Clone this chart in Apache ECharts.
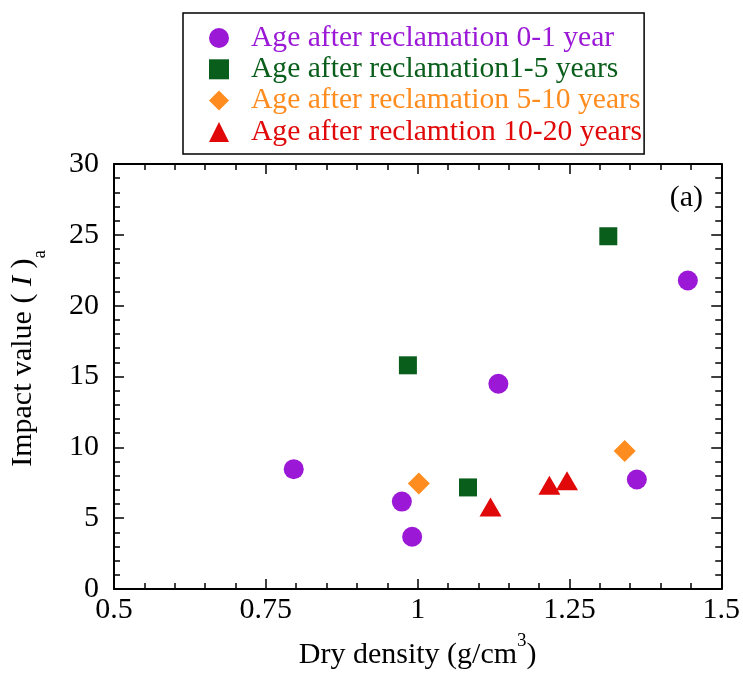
<!DOCTYPE html>
<html>
<head>
<meta charset="utf-8">
<script src="https://cdn.jsdelivr.net/npm/echarts@6/dist/echarts.min.js"></script>
<style>
  html, body { margin: 0; padding: 0; background: #fff; }
  #chart { width: 743px; height: 675px; }
</style>
</head>
<body>
<div id="chart"></div>
<script>
// Impact value vs dry density, grouped by age after reclamation
const seriesNames = [
  'Age after reclamation 0-1 year',
  'Age after reclamation1-5 years',
  'Age after reclamation 5-10 years',
  'Age after reclamtion 10-20 years'
];
const seriesColors = ['#9b19d6', '#0a5e1b', '#ff8c1e', '#e00808'];
const seriesSymbols = ['circle', 'rect', 'diamond', 'triangle'];
const seriesSizes = [20, 18, [22, 22], [22, 19]];

// [dry density (g/cm3), impact value Ia]
const age0to1 = [[0.796, 8.46], [0.974, 6.17], [0.991, 3.69], [1.133, 14.49], [1.361, 7.73], [1.445, 21.78]];
const age1to5 = [[0.984, 15.79], [1.083, 7.17], [1.314, 24.9]];
const age5to10 = [[1.002, 7.45], [1.341, 9.74]];
const age10to20 = [[1.120, 5.78], [1.217, 7.32], [1.246, 7.65]];
const seriesData = [age0to1, age1to5, age5to10, age10to20];

const xTicks = { min: 0.5, max: 1.5, interval: 0.25 };
const yTicks = { min: 0, max: 30, interval: 5 };

const FONT = '"Liberation Serif", "Times New Roman", serif';
const FS = 30;
const AXIS_COLOR = '#000';

function frameAxis(showLabels, position, extra) {
  return Object.assign({
    type: 'value',
    position: position,
    axisLine: { show: true, onZero: false, lineStyle: { color: AXIS_COLOR, width: 2 } },
    axisTick: { show: true, inside: true, length: 10, lineStyle: { color: AXIS_COLOR, width: 1.5 } },
    minorTick: { show: true, splitNumber: 5, length: 6, lineStyle: { color: AXIS_COLOR, width: 1.5 } },
    splitLine: { show: false },
    axisLabel: { show: showLabels, color: '#000', fontFamily: FONT, fontSize: FS }
  }, extra);
}

const chart = echarts.init(document.getElementById('chart'), null, { renderer: 'canvas' });

chart.setOption({
  backgroundColor: '#fff',
  animation: false,
  title: {
    text: '(a)',
    right: 35,
    top: 178,
    textStyle: { fontFamily: FONT, fontSize: FS, fontWeight: 'normal', color: '#000' }
  },
  legend: {
    orient: 'vertical',
    left: 183,
    top: 13,
    padding: [10, 2, 7, 26],
    itemGap: 1.3,
    itemWidth: 20,
    itemHeight: 20,
    borderColor: '#000',
    borderWidth: 1.5,
    borderRadius: 0,
    selectedMode: false,
    textStyle: { fontFamily: FONT, fontSize: 29.6, lineHeight: 30, padding: [0, 0, 0, 17] },
    data: seriesNames.map((n, i) => ({
      name: n,
      icon: seriesSymbols[i],
      itemStyle: { color: seriesColors[i] },
      textStyle: { color: seriesColors[i] }
    }))
  },
  grid: { left: 110, right: 17, top: 164, bottom: 83, containLabel: false },
  xAxis: [
    frameAxis(true, 'bottom', {
      min: xTicks.min, max: xTicks.max, interval: xTicks.interval,
      axisLabel: { show: true, color: '#000', fontFamily: FONT, fontSize: FS, margin: 6 },
      name: '{t|Dry density (g/cm}{sup|3}{t|)}',
      nameLocation: 'middle',
      nameGap: 43,
      nameTextStyle: {
        fontFamily: FONT,
        rich: {
          t: { fontFamily: FONT, fontSize: FS, color: '#000', lineHeight: 38, verticalAlign: 'bottom' },
          sup: { fontFamily: FONT, fontSize: 19, color: '#000', lineHeight: 38, verticalAlign: 'top' }
        }
      }
    }),
    frameAxis(false, 'top', { min: xTicks.min, max: xTicks.max, interval: xTicks.interval })
  ],
  yAxis: [
    frameAxis(true, 'left', {
      min: yTicks.min, max: yTicks.max, interval: yTicks.interval,
      axisLabel: { show: true, color: '#000', fontFamily: FONT, fontSize: FS, margin: 15 },
      name: '{t|Impact value (}{it| I }{t|)}{sub|a}',
      nameLocation: 'middle',
      nameRotate: 90,
      nameGap: 64,
      nameTextStyle: {
        fontFamily: FONT,
        padding: [0, 0, 0, 36],
        rich: {
          t: { fontFamily: FONT, fontSize: FS, color: '#000', lineHeight: 42, verticalAlign: 'top' },
          it: { fontFamily: FONT, fontSize: FS, fontStyle: 'italic', color: '#000', lineHeight: 42, verticalAlign: 'top' },
          sub: { fontFamily: FONT, fontSize: 19, color: '#000', lineHeight: 42, verticalAlign: 'bottom' }
        }
      }
    }),
    frameAxis(false, 'right', { min: yTicks.min, max: yTicks.max, interval: yTicks.interval })
  ],
  series: seriesNames.map((n, i) => ({
    name: n,
    type: 'scatter',
    xAxisIndex: 0,
    yAxisIndex: 0,
    symbol: seriesSymbols[i],
    symbolSize: seriesSizes[i],
    itemStyle: { color: seriesColors[i], opacity: 1 },
    data: seriesData[i]
  }))
});
</script>
</body>
</html>
